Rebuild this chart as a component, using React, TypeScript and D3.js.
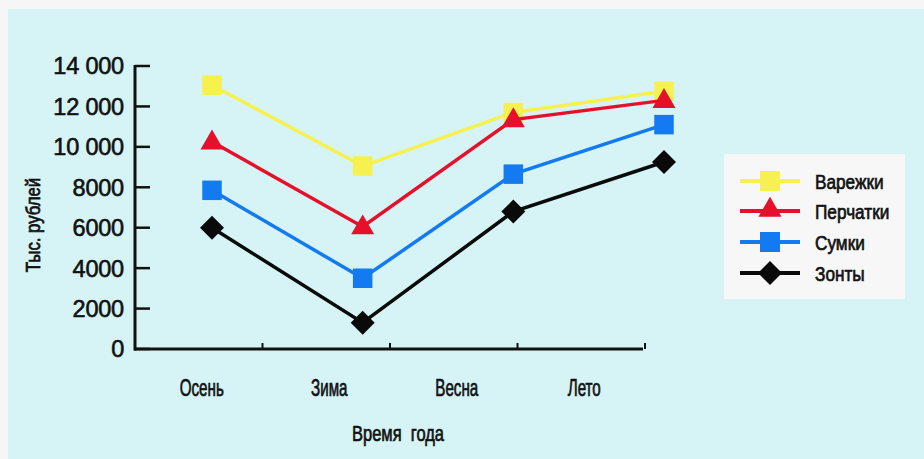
import React from "react";
import * as d3 from "d3";

const seasons = ["Осень", "Зима", "Весна", "Лето"];
const varezhki = [13050, 9050, 11700, 12750];
const perchatki = [10250, 6050, 11350, 12300];
const sumki = [7850, 3500, 8650, 11100];
const zonty = [6000, 1300, 6800, 9250];
const seriesNames = ["Варежки", "Перчатки", "Сумки", "Зонты"];
const yTicks = [0, 2000, 4000, 6000, 8000, 10000, 12000, 14000];
const yTickLabels = ["0", "2000", "4000", "6000", "8000", "10 000", "12 000", "14 000"];
const yTitle = "Тыс. рублей";
const xTitle = "Время  года";

const W = 924;
const H = 459;

const series = [
  { name: seriesNames[0], values: varezhki, color: "#f6f150", shape: "square" },
  { name: seriesNames[1], values: perchatki, color: "#e5112a", shape: "triangle" },
  { name: seriesNames[2], values: sumki, color: "#147af2", shape: "square" },
  { name: seriesNames[3], values: zonty, color: "#0a0a0a", shape: "diamond" },
];

const font = "'Liberation Sans', Arial, Helvetica, sans-serif";

function symbolPath(shape: string) {
  if (shape === "triangle") return d3.symbol(d3.symbolTriangle, 230)()!;
  if (shape === "diamond") return "M0,-12L12,0L0,12L-12,0Z";
  return d3.symbol(d3.symbolSquare, 380)()!;
}

function CText(props: {
  x: number;
  y: number;
  sx: number;
  size: number;
  anchor?: string;
  rotate?: number;
  dy?: string;
  children: React.ReactNode;
}) {
  const { x, y, sx, size, anchor, rotate, dy, children } = props;
  return (
    <text
      transform={`translate(${x},${y}) rotate(${rotate || 0}) scale(${sx},1)`}
      textAnchor={anchor || "start"}
      dy={dy}
      fontFamily={font}
      fontSize={size}
      fill="#111"
      stroke="#111"
      strokeWidth={0.7}
      style={{ whiteSpace: "pre" }}
    >
      {children}
    </text>
  );
}

export default function App() {
  const y = d3.scaleLinear().domain([0, 14000]).range([349, 66]);
  const xBand = d3.scaleBand().domain(seasons).range([135, 645]);
  const xPt = d3.scalePoint().domain(seasons).range([212, 664]);
  const line = d3
    .line<number>()
    .x((_, i) => xPt(seasons[i])!)
    .y((v) => y(v));

  const legendRows = [181, 211, 242, 273];

  return (
    <svg
      width={W}
      height={H}
      style={{ position: "absolute", left: 0, top: 0, display: "block" }}
    >
      <rect x={0} y={0} width={W} height={H} fill="#f6f6f6" />
      <rect x={8} y={9} width={W - 8} height={H - 9} fill="#d6f4f6" />

      {/* Y axis */}
      <line x1={135} x2={135} y1={y(14000) - 1} y2={y(0) + 1.5} stroke="#111" strokeWidth={3} />
      {yTicks.map((t, i) => (
        <g key={t}>
          <line x1={135} x2={150} y1={y(t)} y2={y(t)} stroke="#111" strokeWidth={2.5} />
          <text
            x={124}
            y={y(t)}
            dy="0.36em"
            textAnchor="end"
            fontFamily={font}
            fontSize={23.5}
            letterSpacing={-0.2}
            fill="#111"
            stroke="#111"
            strokeWidth={0.6}
          >
            {yTickLabels[i]}
          </text>
        </g>
      ))}

      {/* X axis */}
      <line x1={134} x2={643} y1={y(0)} y2={y(0)} stroke="#111" strokeWidth={3} />
      {seasons.map((s) => (
        <line
          key={"t" + s}
          x1={xBand(s)! + xBand.bandwidth()}
          x2={xBand(s)! + xBand.bandwidth()}
          y1={y(0)}
          y2={y(0) - 6}
          stroke="#111"
          strokeWidth={2}
        />
      ))}
      {seasons.map((s) => (
        <CText key={"l" + s} x={xBand(s)! + xBand.bandwidth() / 2 + 3} y={396} sx={0.66} size={23} anchor="middle">
          {s}
        </CText>
      ))}
      <CText x={398} y={441} sx={0.75} size={22} anchor="middle">
        {xTitle}
      </CText>
      <CText x={40} y={225} sx={0.8} size={21} anchor="middle" rotate={-90}>
        {yTitle}
      </CText>

      {/* Series */}
      {series.map((s) => (
        <g key={s.name}>
          <path d={line(s.values)!} fill="none" stroke={s.color} strokeWidth={3.5} />
          {s.values.map((v, i) => (
            <path
              key={i}
              d={symbolPath(s.shape)}
              transform={`translate(${xPt(seasons[i])},${y(v) + (s.shape === "triangle" ? 1 : 0)})`}
              fill={s.color}
            />
          ))}
        </g>
      ))}

      {/* Legend */}
      <rect x={724} y={154} width={181} height={145} fill="#f7f7f7" />
      {series.map((s, i) => (
        <g key={"lg" + s.name}>
          <line x1={740} x2={800} y1={legendRows[i]} y2={legendRows[i]} stroke={s.color} strokeWidth={4} />
          <path
            d={s.shape === "square" ? d3.symbol(d3.symbolSquare, 400)()! : symbolPath(s.shape)}
            transform={`translate(770,${legendRows[i] + (s.shape === "triangle" ? -1 : 0)})`}
            fill={s.color}
          />
          <CText x={815} y={legendRows[i]} sx={0.82} size={21} dy="0.36em">
            {s.name}
          </CText>
        </g>
      ))}
    </svg>
  );
}
